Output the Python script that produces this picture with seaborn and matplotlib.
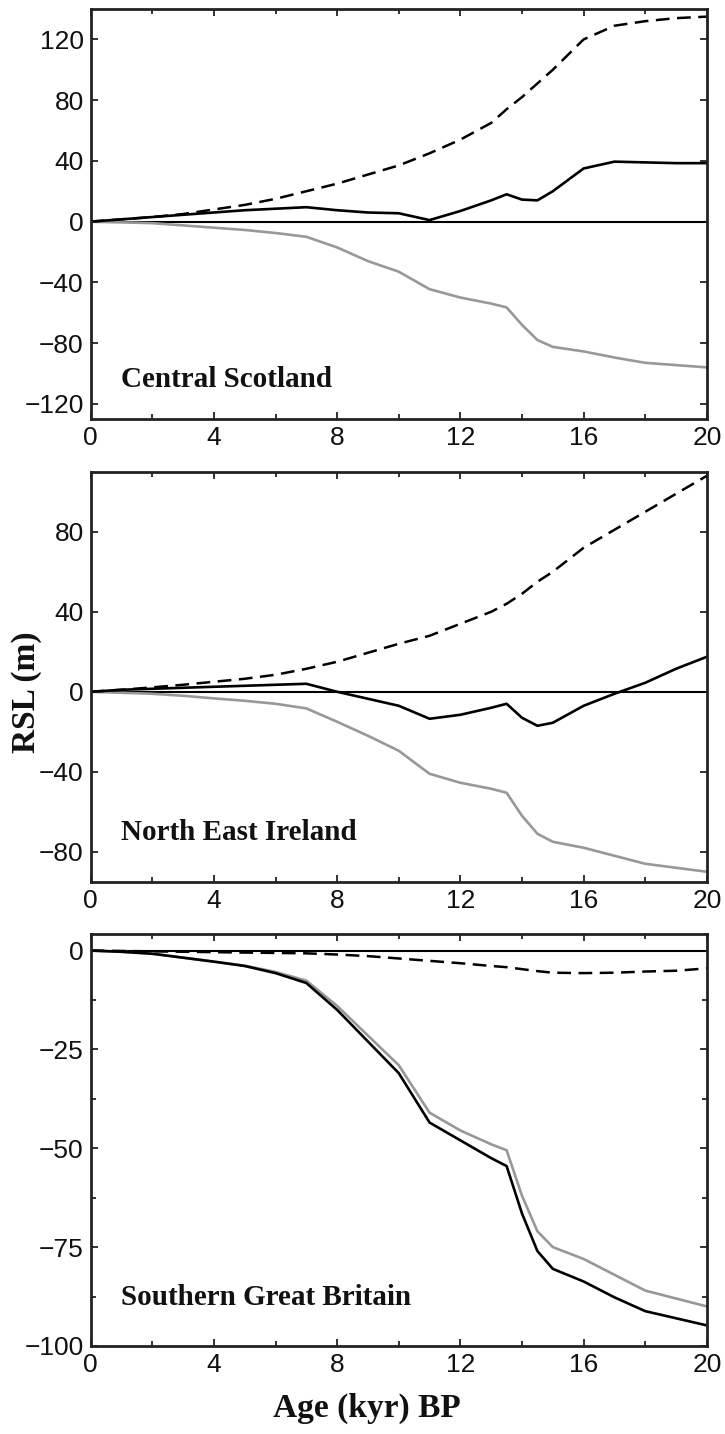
import numpy as np
import pandas as pd
import matplotlib
matplotlib.use('Agg')
import matplotlib.pyplot as plt
import seaborn as sns
from matplotlib.ticker import MultipleLocator

# ages (kyr BP) shared by all curves
ages = [0, 1, 2, 3, 4, 5, 6, 7, 8, 9, 10, 11, 12, 13, 13.5, 14, 14.5, 15, 16, 17, 18, 19, 20]

# Central Scotland
cs_total = [0, 1.5, 3, 4.5, 6, 7.5, 8.5, 9.5, 7.5, 6, 5.5, 1, 7, 14, 18, 14.5, 14, 20, 35, 39.5, 39, 38.5, 38.5]
cs_iso = [0, 1.5, 3, 5, 8, 11, 15, 20, 25, 31, 37, 45, 54, 65, 74, 82, 91, 100, 120, 129, 132, 134, 135]
cs_eus = [0, -0.5, -1, -2.5, -4, -5.5, -7.5, -10, -17, -26, -33, -44.5, -50, -54, -56.5, -68, -78, -82.5, -85.5, -89.5, -93, -94.5, -96]

# North East Ireland
nei_total = [0, 1, 1.5, 2, 2.5, 3, 3.5, 4, 0, -3.5, -7, -13.5, -11.5, -8, -6, -13, -17, -15.5, -7, -1, 4.5, 11.5, 17.5]
nei_iso = [0, 1, 2.2, 3.5, 5, 6.5, 8.5, 11.5, 15, 19.5, 24, 28, 34, 40, 44, 49, 55, 60, 72, 81, 90, 99, 108]
nei_eus = [0, -0.5, -1, -2, -3.3, -4.5, -6, -8.3, -15, -22, -29.5, -41, -45.5, -48.5, -50.5, -62, -71, -75, -78, -82, -86, -88, -90]

# Southern Great Britain
sgb_total = [0, -0.3, -0.8, -1.8, -2.8, -3.9, -5.7, -8.2, -15, -23, -31, -43.5, -48, -52.5, -54.5, -66.5, -76, -80.5, -83.7, -87.7, -91.2, -93, -94.8]
sgb_iso = [0, -0.1, -0.2, -0.3, -0.4, -0.5, -0.6, -0.7, -1, -1.4, -2, -2.6, -3.2, -3.9, -4.2, -4.7, -5.2, -5.6, -5.7, -5.6, -5.3, -5.1, -4.5]
sgb_eus = [0, -0.3, -0.8, -1.8, -2.8, -3.8, -5.4, -7.6, -14, -21.5, -29, -41, -45.5, -49, -50.5, -62, -71, -75, -78, -82, -86, -88, -90]

panels = [
    ('Central Scotland', cs_total, cs_iso, cs_eus, (-130, 140), 40, None, -104),
    ('North East Ireland', nei_total, nei_iso, nei_eus, (-95, 110), 40, None, -70.6),
    ('Southern Great Britain', sgb_total, sgb_iso, sgb_eus, (-100, 4.2), 25, 12.5, -87.8),
]

sns.set_style('ticks')
plt.rcParams['font.family'] = ['Liberation Sans', 'DejaVu Sans']
plt.rcParams['text.color'] = '#111111'
plt.rcParams['xtick.color'] = '#111111'
plt.rcParams['ytick.color'] = '#111111'

fig = plt.figure(figsize=(7.25, 14.34), dpi=100)
left, width = 0.125, 0.850
boxes = [(0.7078, 0.2859), (0.3851, 0.2859), (0.0614, 0.2873)]

gray = '#989898'
for (name, total, iso, eus, ylim, ystep, yminor, label_y), (y0, h) in zip(panels, boxes):
    ax = fig.add_axes([left, y0, width, h])
    ax.axhline(0, color='black', lw=1.5, zorder=1)
    sns.lineplot(x=ages, y=eus, ax=ax, color=gray, lw=1.9)
    sns.lineplot(x=ages, y=iso, ax=ax, color='black', lw=1.8, linestyle=(0, (5.5, 3)))
    sns.lineplot(x=ages, y=total, ax=ax, color='black', lw=1.9)
    ax.set_xlim(0, 20)
    ax.set_ylim(*ylim)
    ax.xaxis.set_major_locator(MultipleLocator(4))
    ax.xaxis.set_minor_locator(MultipleLocator(2))
    ax.yaxis.set_major_locator(MultipleLocator(ystep))
    if yminor:
        ax.yaxis.set_minor_locator(MultipleLocator(yminor))
    ax.tick_params(which='both', direction='in', top=True, right=True, width=1.2, labelsize=19)
    ax.tick_params(which='major', length=5, pad=5)
    ax.tick_params(which='minor', length=3.5)
    for sp in ax.spines.values():
        sp.set_linewidth(2)
        sp.set_color('#222222')
    ax.set_xlabel('')
    ax.set_ylabel('')
    ax.text(1.0, label_y, name, family='Liberation Serif', fontweight='bold', fontsize=21, va='center', ha='left')

fig.text(0.037, 0.517, 'RSL (m)', family='Liberation Serif', fontweight='bold', fontsize=24,
         rotation=90, ha='center', va='center')
fig.text(0.506, 0.018, 'Age (kyr) BP', family='Liberation Serif', fontweight='bold', fontsize=24,
         ha='center', va='center')

fig.savefig('out.png', dpi=100, facecolor='white')
